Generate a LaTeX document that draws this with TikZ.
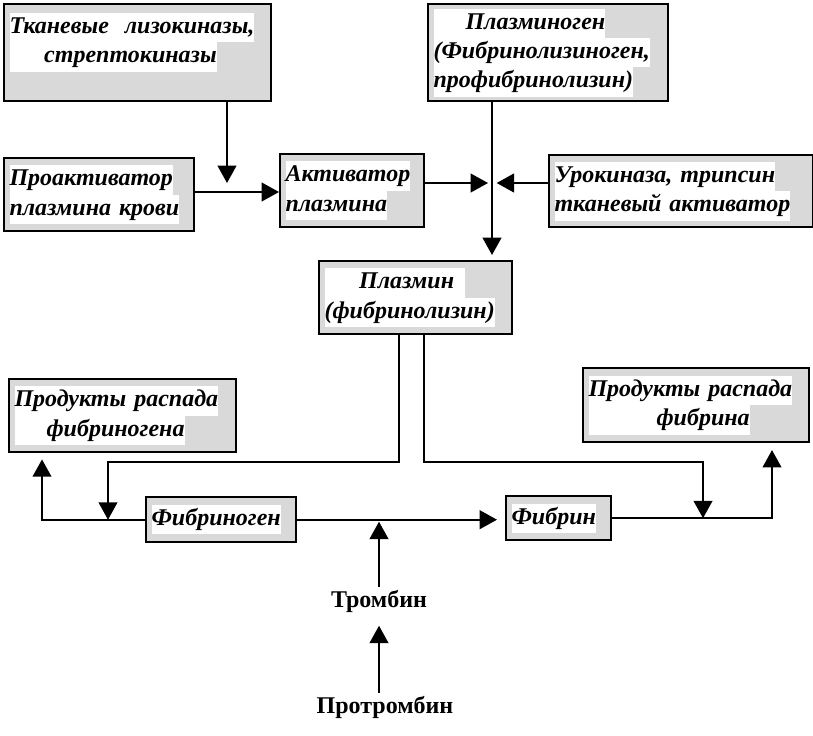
\documentclass[tikz,border=0pt]{standalone}
\usepackage{fontspec}
\setmainfont{Liberation Serif}
\usetikzlibrary{arrows.meta}
\newcommand\hl[1]{{\setlength\fboxsep{0pt}\colorbox{white}{\strut#1}}}

\begin{document}
\begin{tikzpicture}[x=0.75pt,y=-0.75pt,
  box/.style={draw=black,line width=1.8pt,fill=black!15,anchor=north west,
    inner xsep=4pt,inner ysep=0pt,align=left,
    font=\bfseries\itshape\fontsize{18}{22}\selectfont},
  wire/.style={line width=1.5pt},
  flow/.style={wire,-{Triangle[length=13pt,width=14pt]}},
  plain/.style={font=\bfseries\fontsize{18}{22}\selectfont,inner sep=2pt}]

\useasboundingbox (0,0) rectangle (813,735);

% Top row
\node[box,minimum width=200.25pt,minimum height=72.75pt,text width=192.25pt] (tkan) at (3,3)
  {\hl{Тканевые\ \ лизокиназы,}\\\hl{\hspace{26pt}стрептокиназы}\\\mbox{}};
\node[box,minimum width=180pt,minimum height=72.75pt,text width=172pt] (plgen) at (427,3)
  {\hl{\hspace{24pt}Плазминоген}\\\hl{(Фибринолизиноген,}\\\hl{профибринолизин)}};

% Activators
\node[box,minimum width=142.5pt,minimum height=54.75pt,text width=134.5pt] (proakt) at (3,157)
  {\hl{Проактиватор}\\\hl{плазмина крови}};
\node[box,minimum width=108pt,minimum height=54.75pt,text width=100pt] (akt) at (279,153)
  {\hl{Активатор}\\\hl{плазмина}};
\node[box,minimum width=198pt,minimum height=54pt,text width=190pt] (urok) at (548,154)
  {\hl{Урокиназа, трипсин}\\\hl{тканевый активатор}};

% Plasmin
\node[box,minimum width=144.75pt,minimum height=54.75pt,text width=136.75pt] (plasmin) at (318,260)
  {\hl{\hspace{26pt}Плазмин\hspace{8pt}}\\\hl{(фибринолизин)}};

% Products
\node[box,minimum width=170.25pt,minimum height=54.75pt,text width=162.25pt] (pdfg) at (8,378)
  {\hl{Продукты распада}\\\hl{\hspace{24pt}фибриногена}};
\node[box,minimum width=169.5pt,minimum height=55.5pt,text width=161.5pt] (pdf) at (582,367)
  {\hl{Продукты распада}\\\hl{\hspace{51pt}фибрина}};

% Fibrinogen and fibrin
\node[box,minimum width=112.5pt,minimum height=33.75pt,text width=104.5pt] (fgen) at (145,496)
  {\hl{Фибриноген}};
\node[box,minimum width=78.75pt,minimum height=33pt,text width=70.75pt] (fibrin) at (505,495)
  {\hl{Фибрин}};

% Thrombin
\node[plain] (thromb) at (379,601) {Тромбин};
\node[plain] (prothr) at (385,707) {Протромбин};

% Connectors
\coordinate (join) at (227,192);
\coordinate (mix) at (492,183);
\draw[flow] (proakt.east |- join) -- (akt.west |- join);
\draw[flow,shorten >=6.75pt] (tkan.south -| join) -- (join);
\draw[flow,shorten >=3pt] (akt.east |- mix) -- (mix);
\draw[flow,shorten >=3.5pt] (urok.west |- mix) -- (mix);
\draw[flow,shorten >=3.75pt] (plgen.south -| mix) -- (plasmin.north -| mix);

\coordinate (pl1) at (399,462);
\coordinate (pl2) at (424,462);
\coordinate (lturn) at (108,462);
\coordinate (rturn) at (703,462);
\draw[flow] (plasmin.south -| pl1) -- (pl1) -- (lturn) -- (lturn |- fgen.west);
\draw[flow] (plasmin.south -| pl2) -- (pl2) -- (rturn) -- (rturn |- fibrin.east);

\coordinate (fgout) at (42,0);
\coordinate (fbout) at (772,0);
\draw[flow,shorten >=4.5pt] (fgen.west) -- (fgout |- fgen.west) -- (fgout |- pdfg.south);
\draw[flow,shorten >=6pt] (fgen.east) -- (fibrin.west |- fgen.east);
\draw[flow,shorten >=5pt] (fibrin.east) -- (fbout |- fibrin.east) -- (fbout |- pdf.south);

\draw[flow,shorten >=1.5pt] (thromb.north) -- (thromb.north |- fgen.east);
\draw[flow,shorten >=8pt] (prothr.north -| thromb.north) -- (thromb.south);

\end{tikzpicture}
\end{document}
